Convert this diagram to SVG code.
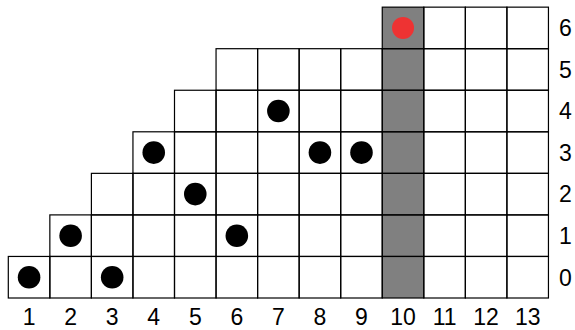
<svg xmlns="http://www.w3.org/2000/svg" width="575" height="330" viewBox="0 0 575 330">
<style>
.c{fill:none;stroke:#000;stroke-width:1.2}
.g{fill:#808080;stroke:none}
.d{fill:#000}
.r{fill:#ee3333}
text{font-family:"Liberation Sans","DejaVu Sans",sans-serif;font-size:23px;fill:#000}
.b{text-anchor:middle}
</style>
<defs>
<rect id="cell" width="41.55" height="41.55" class="c"/>
</defs>
<g id="highlight">
<rect class="g" x="382.25" y="7.15" width="41.55" height="290.85"/>
</g>
<g id="grid">
<g id="row0">
<use href="#cell" x="8.3" y="256.45"/><use href="#cell" x="49.85" y="256.45"/><use href="#cell" x="91.4" y="256.45"/><use href="#cell" x="132.95" y="256.45"/><use href="#cell" x="174.5" y="256.45"/><use href="#cell" x="216.05" y="256.45"/><use href="#cell" x="257.6" y="256.45"/><use href="#cell" x="299.15" y="256.45"/><use href="#cell" x="340.7" y="256.45"/><use href="#cell" x="382.25" y="256.45"/><use href="#cell" x="423.8" y="256.45"/><use href="#cell" x="465.35" y="256.45"/><use href="#cell" x="506.9" y="256.45"/>
</g>
<g id="row1">
<use href="#cell" x="49.85" y="214.9"/><use href="#cell" x="91.4" y="214.9"/><use href="#cell" x="132.95" y="214.9"/><use href="#cell" x="174.5" y="214.9"/><use href="#cell" x="216.05" y="214.9"/><use href="#cell" x="257.6" y="214.9"/><use href="#cell" x="299.15" y="214.9"/><use href="#cell" x="340.7" y="214.9"/><use href="#cell" x="382.25" y="214.9"/><use href="#cell" x="423.8" y="214.9"/><use href="#cell" x="465.35" y="214.9"/><use href="#cell" x="506.9" y="214.9"/>
</g>
<g id="row2">
<use href="#cell" x="91.4" y="173.35"/><use href="#cell" x="132.95" y="173.35"/><use href="#cell" x="174.5" y="173.35"/><use href="#cell" x="216.05" y="173.35"/><use href="#cell" x="257.6" y="173.35"/><use href="#cell" x="299.15" y="173.35"/><use href="#cell" x="340.7" y="173.35"/><use href="#cell" x="382.25" y="173.35"/><use href="#cell" x="423.8" y="173.35"/><use href="#cell" x="465.35" y="173.35"/><use href="#cell" x="506.9" y="173.35"/>
</g>
<g id="row3">
<use href="#cell" x="132.95" y="131.8"/><use href="#cell" x="174.5" y="131.8"/><use href="#cell" x="216.05" y="131.8"/><use href="#cell" x="257.6" y="131.8"/><use href="#cell" x="299.15" y="131.8"/><use href="#cell" x="340.7" y="131.8"/><use href="#cell" x="382.25" y="131.8"/><use href="#cell" x="423.8" y="131.8"/><use href="#cell" x="465.35" y="131.8"/><use href="#cell" x="506.9" y="131.8"/>
</g>
<g id="row4">
<use href="#cell" x="174.5" y="90.25"/><use href="#cell" x="216.05" y="90.25"/><use href="#cell" x="257.6" y="90.25"/><use href="#cell" x="299.15" y="90.25"/><use href="#cell" x="340.7" y="90.25"/><use href="#cell" x="382.25" y="90.25"/><use href="#cell" x="423.8" y="90.25"/><use href="#cell" x="465.35" y="90.25"/><use href="#cell" x="506.9" y="90.25"/>
</g>
<g id="row5">
<use href="#cell" x="216.05" y="48.7"/><use href="#cell" x="257.6" y="48.7"/><use href="#cell" x="299.15" y="48.7"/><use href="#cell" x="340.7" y="48.7"/><use href="#cell" x="382.25" y="48.7"/><use href="#cell" x="423.8" y="48.7"/><use href="#cell" x="465.35" y="48.7"/><use href="#cell" x="506.9" y="48.7"/>
</g>
<g id="row6">
<use href="#cell" x="382.25" y="7.15"/><use href="#cell" x="423.8" y="7.15"/><use href="#cell" x="465.35" y="7.15"/><use href="#cell" x="506.9" y="7.15"/>
</g>
</g>
<g id="dots">
<circle class="d" cx="29.08" cy="277.2" r="11.3"/>
<circle class="d" cx="112.18" cy="277.2" r="11.3"/>
<circle class="d" cx="70.63" cy="235.7" r="11.3"/>
<circle class="d" cx="236.83" cy="235.7" r="11.3"/>
<circle class="d" cx="195.28" cy="194.1" r="11.3"/>
<circle class="d" cx="153.73" cy="152.6" r="11.3"/>
<circle class="d" cx="319.93" cy="152.6" r="11.3"/>
<circle class="d" cx="361.48" cy="152.6" r="11.3"/>
<circle class="d" cx="278.38" cy="111.0" r="11.3"/>
<circle class="r" cx="403.03" cy="27.9" r="11"/>
</g>
<g id="col-labels">
<text class="b" x="29.08" y="325">1</text>
<text class="b" x="70.63" y="325">2</text>
<text class="b" x="112.18" y="325">3</text>
<text class="b" x="153.73" y="325">4</text>
<text class="b" x="195.28" y="325">5</text>
<text class="b" x="236.83" y="325">6</text>
<text class="b" x="278.38" y="325">7</text>
<text class="b" x="319.93" y="325">8</text>
<text class="b" x="361.48" y="325">9</text>
<text class="b" x="403.03" y="325">10</text>
<text class="b" x="444.58" y="325">11</text>
<text class="b" x="486.13" y="325">12</text>
<text class="b" x="527.68" y="325">13</text>
</g>
<g id="row-labels">
<text x="559" y="285.5">0</text>
<text x="559" y="244">1</text>
<text x="559" y="202.4">2</text>
<text x="559" y="160.9">3</text>
<text x="559" y="119.3">4</text>
<text x="559" y="77.8">5</text>
<text x="559" y="36.2">6</text>
</g>
</svg>
